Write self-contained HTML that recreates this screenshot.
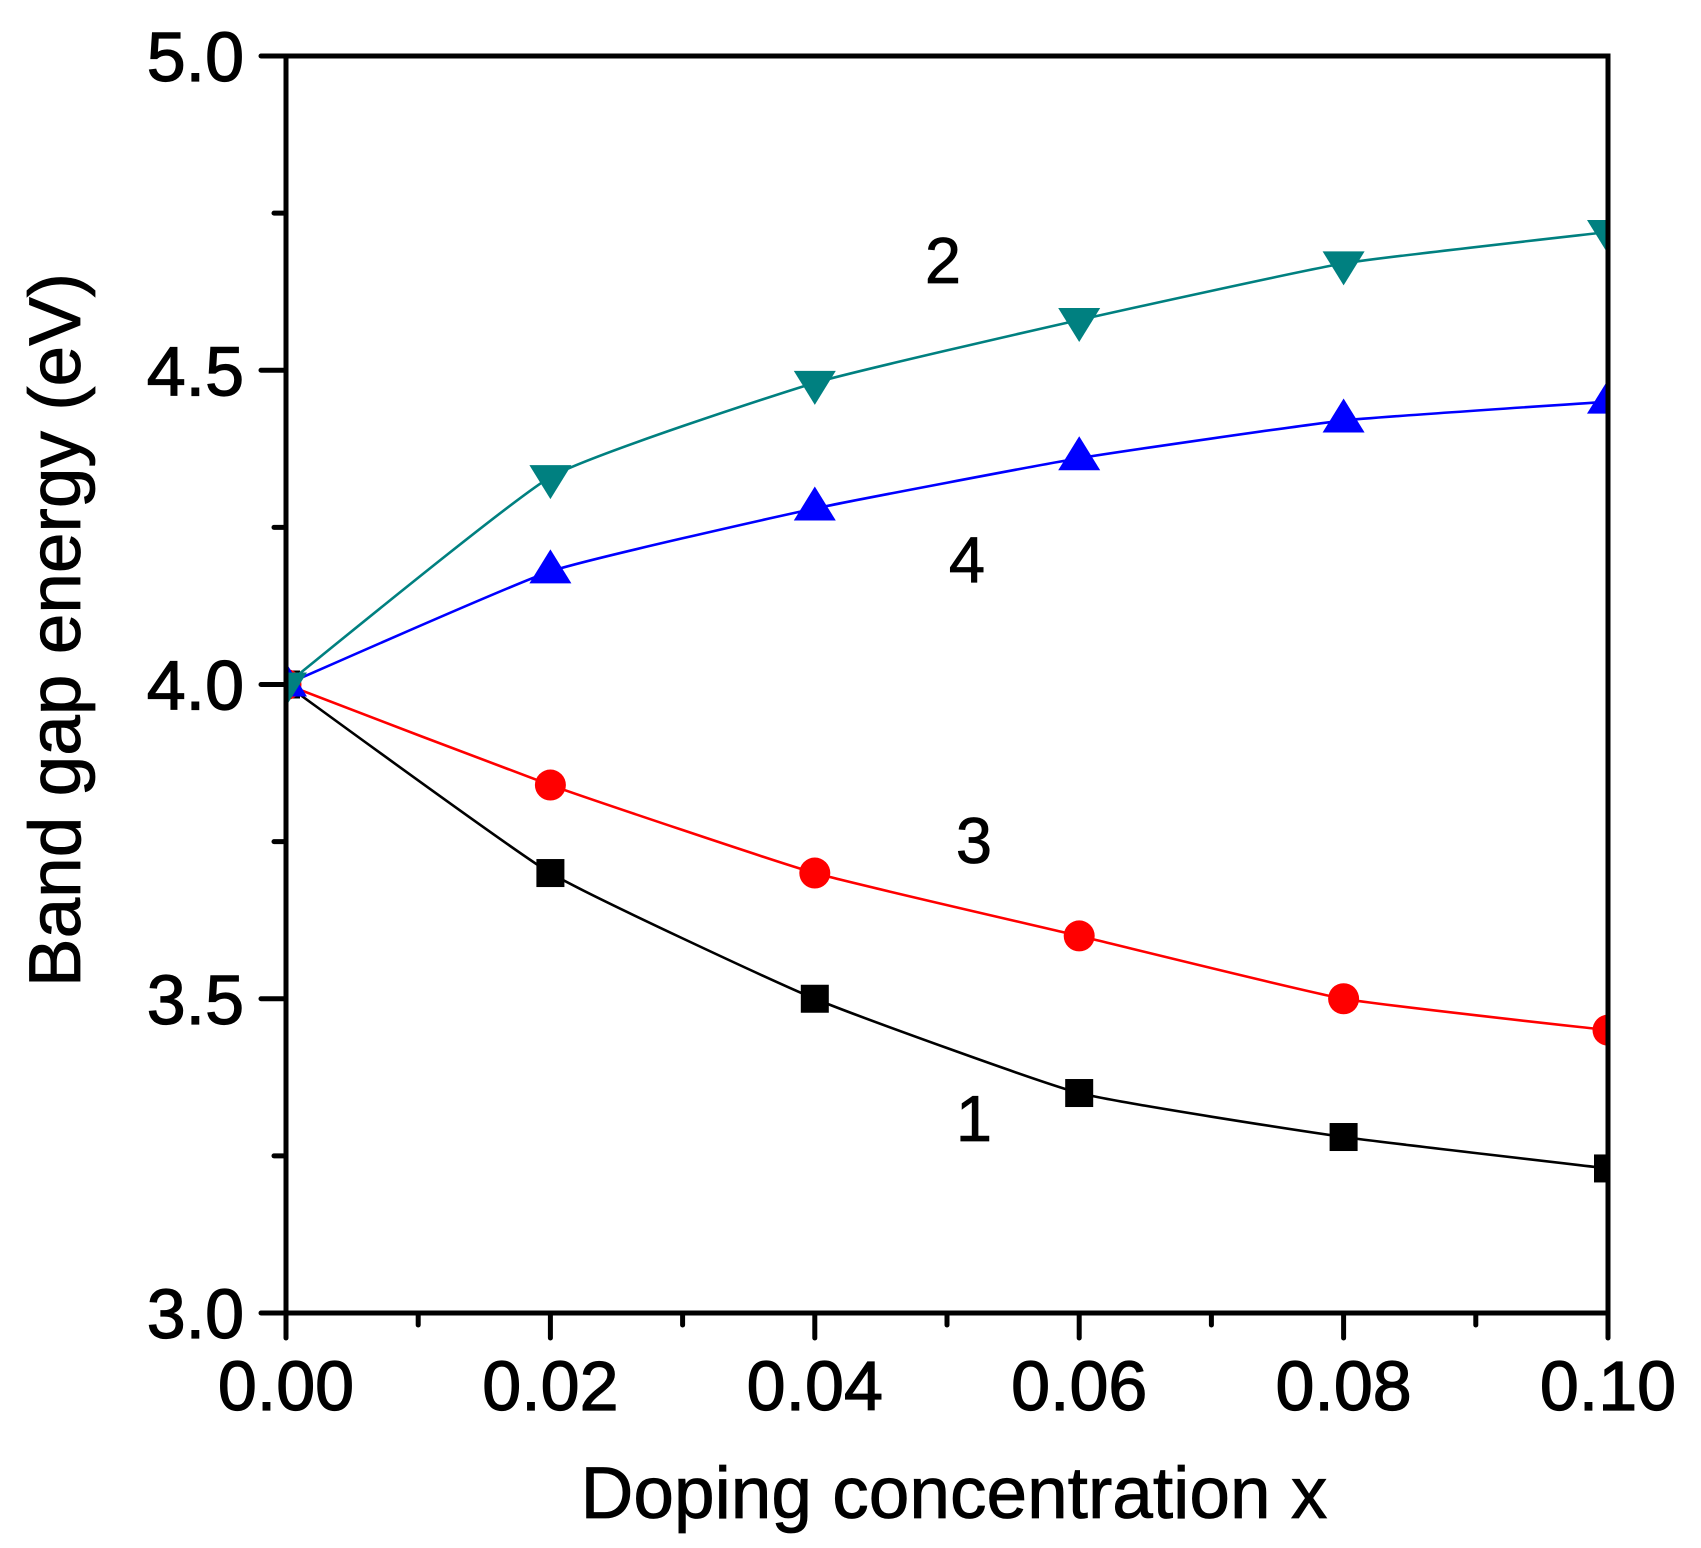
<!DOCTYPE html>
<html><head><meta charset="utf-8"><style>
html,body{margin:0;padding:0;background:#fff;}
svg{display:block;font-family:"Liberation Sans",Arial,sans-serif;}
</style></head><body>
<svg id="chart" width="1701" height="1548" viewBox="0 0 1701 1548">
<defs><clipPath id="plotclip"><rect x="286" y="56" width="1322" height="1257"/></clipPath></defs>
<g id="series" clip-path="url(#plotclip)"></g>
<g id="axes"></g>
</svg>
<script>
const xValues = [0, 0.02, 0.04, 0.06, 0.08, 0.10];
const series1 = [4.0, 3.70, 3.50, 3.35, 3.28, 3.23];
const series2 = [4.0, 4.33, 4.48, 4.58, 4.67, 4.72];
const series3 = [4.0, 3.84, 3.70, 3.60, 3.50, 3.45];
const series4 = [4.0, 4.18, 4.28, 4.36, 4.42, 4.45];
const xTickLabels = ["0.00","0.02","0.04","0.06","0.08","0.10"];
const yTickLabels = ["3.0","3.5","4.0","4.5","5.0"];

const NS = "http://www.w3.org/2000/svg";
const X0=286, X1=1608, Y0=1313, Y1=56;
function sx(v){return X0+(v-0)/(0.1-0)*(X1-X0);}
function sy(v){return Y0-(v-3)/(5-3)*(Y0-Y1);}
function mk(tag, attrs, parent){const e=document.createElementNS(NS,tag);for(const k in attrs)e.setAttribute(k,attrs[k]);parent.appendChild(e);return e;}
const sg=document.getElementById('series'), ag=document.getElementById('axes');

function smoothPath(p){
  let d='M'+p[0][0]+','+p[0][1];
  const k=0.07;
  for(let i=0;i<p.length-1;i++){
    const p0=p[Math.max(0,i-1)], p1=p[i], p2=p[i+1], p3=p[Math.min(p.length-1,i+2)];
    const c1=[p1[0]+(p2[0]-p0[0])*k, p1[1]+(p2[1]-p0[1])*k];
    const c2=[p2[0]-(p3[0]-p1[0])*k, p2[1]-(p3[1]-p1[1])*k];
    d+=` C${c1[0]},${c1[1]} ${c2[0]},${c2[1]} ${p2[0]},${p2[1]}`;
  }
  return d;
}
function drawSeries(vals,color,shape,name){
  const pts=xValues.map((x,i)=>[sx(x),sy(vals[i])]);
  const pl=mk('path',{d:smoothPath(pts),fill:'none',stroke:color,'stroke-width':2.6},sg);
  
  
  xValues.forEach((x,i)=>{
    const cx=sx(x), cy=sy(vals[i]); let m;
    if(shape==='square') m=mk('rect',{x:cx-14,y:cy-14,width:28,height:28,fill:color},sg);
    else if(shape==='circle') m=mk('circle',{cx:cx,cy:cy,r:15.5,fill:color},sg);
    else if(shape==='up') m=mk('polygon',{points:`${cx-21},${cy+12} ${cx+21},${cy+12} ${cx},${cy-22}`,fill:color},sg);
    else m=mk('polygon',{points:`${cx-21},${cy-12} ${cx+21},${cy-12} ${cx},${cy+22}`,fill:color},sg);
    
    
  });
}
drawSeries(series1,'#000000','square','series-1');
drawSeries(series3,'#ff0000','circle','series-3');
drawSeries(series4,'#0000ff','up','series-4');
drawSeries(series2,'#008080','down','series-2');

const fr=mk('rect',{x:X0,y:Y1,width:X1-X0,height:Y0-Y1,fill:'none',stroke:'#000','stroke-width':5},ag);


for(let i=0;i<=10;i++){
  const v=i*0.01, x=sx(v), len=(i%2===0)?25:12;
  const t=mk('line',{x1:x,y1:Y0,x2:x,y2:Y0+len,stroke:'#000','stroke-width':5,'stroke-linecap':'round'},ag);
  
  
}
xTickLabels.forEach((lab,i)=>{
  const t=mk('text',{x:sx(xValues[i]),y:1410,'text-anchor':'middle','font-size':70,stroke:'#000','stroke-width':1.2},ag);
  t.textContent=lab;
  
  
});
for(let i=0;i<=8;i++){
  const v=3+i*0.25, y=sy(v), len=(i%2===0)?25:12;
  const t=mk('line',{x1:X0,y1:y,x2:X0-len,y2:y,stroke:'#000','stroke-width':5,'stroke-linecap':'round'},ag);
  
  
}
yTickLabels.forEach((lab,i)=>{
  const t=mk('text',{x:244,y:sy(3+i*0.5)+25,'text-anchor':'end','font-size':70,stroke:'#000','stroke-width':1.2},ag);
  t.textContent=lab;
  
  
});
const xt=mk('text',{x:954,y:1518,'text-anchor':'middle','font-size':73,stroke:'#000','stroke-width':0.8},ag);
xt.textContent='Doping concentration x';


const yt=mk('text',{x:0,y:0,'text-anchor':'middle','font-size':73,stroke:'#000','stroke-width':0.8,transform:'translate(80,630) rotate(-90)'},ag);
yt.textContent='Band gap energy (eV)';


const labels=[["2",943,283],["4",967,582],["3",974,863],["1",974,1141]];
labels.forEach(l=>{
  const t=mk('text',{x:l[1],y:l[2],'text-anchor':'middle','font-size':65,stroke:'#000','stroke-width':0.8},ag);
  t.textContent=l[0];
  
  
});
</script>
</body></html>
